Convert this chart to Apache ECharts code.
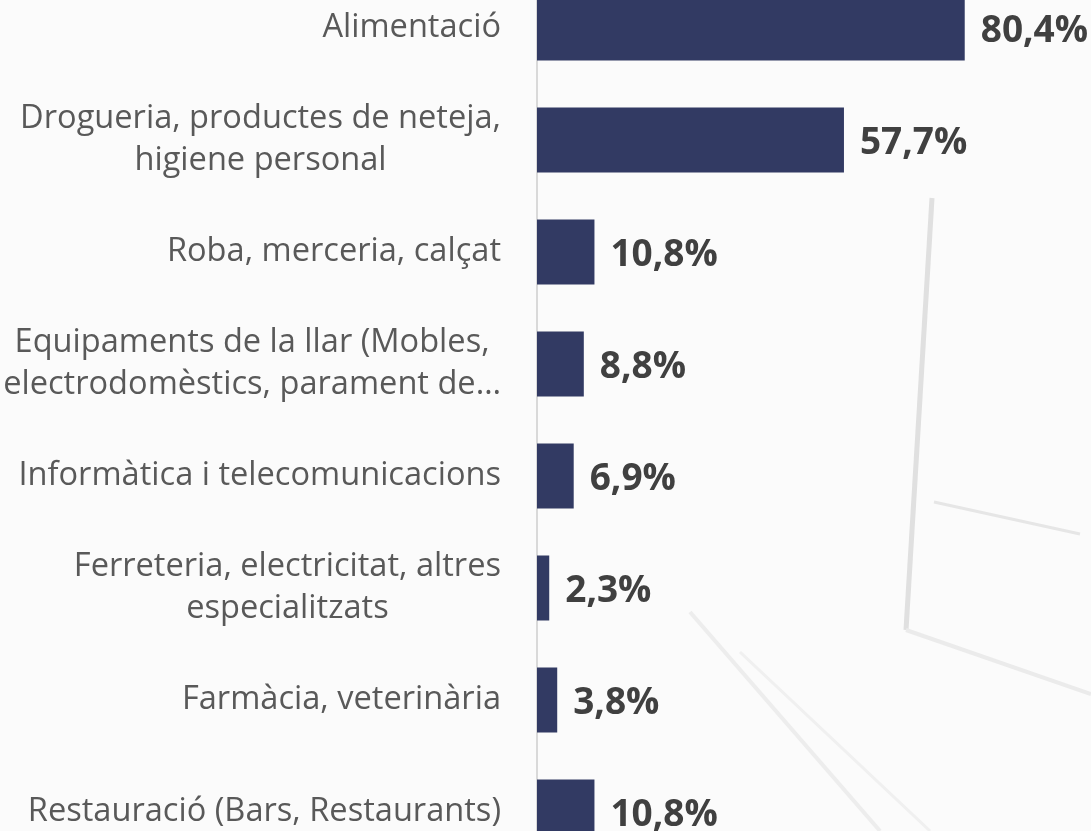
<!DOCTYPE html>
<html>
<head>
<meta charset="utf-8">
<script src="https://cdn.jsdelivr.net/npm/echarts@6/dist/echarts.min.js"></script>
<style>
    html, body { margin: 0; padding: 0; background: #fbfbfb; overflow: hidden; height: 831px; }
    #chart { width: 1091px; height: 896px; margin-top: -28px; }
</style>
</head>
<body>
<div id="chart"></div>
<script>
// Data
const categories = [
    'Alimentació',
    'Drogueria, productes de neteja,\nhigiene personal',
    'Roba, merceria, calçat',
    'Equipaments de la llar (Mobles,\nelectrodomèstics, parament de…',
    'Informàtica i telecomunicacions',
    'Ferreteria, electricitat, altres\nespecialitzats',
    'Farmàcia, veterinària',
    'Restauració (Bars, Restaurants)'
];
const values = [80.4, 57.7, 10.8, 8.8, 6.9, 2.3, 3.8, 10.8];

const chart = echarts.init(document.getElementById('chart'));
const option = {
    backgroundColor: '#fbfbfb',
    animation: false,
    // faint background picture (laptop outline)
    graphic: [
        { type: 'polyline', silent: true, z: -10,
          shape: { points: [[932, 226], [906, 658]] },
          style: { stroke: '#e0e0e0', lineWidth: 5, fill: null } },
        { type: 'polyline', silent: true, z: -10,
          shape: { points: [[934, 530], [1080, 562]] },
          style: { stroke: '#e6e6e6', lineWidth: 3, fill: null } },
        { type: 'polyline', silent: true, z: -10,
          shape: { points: [[906, 658], [1091, 722]] },
          style: { stroke: '#ebebeb', lineWidth: 4, fill: null } },
        { type: 'polyline', silent: true, z: -10,
          shape: { points: [[690, 640], [880, 859]] },
          style: { stroke: '#ededed', lineWidth: 4, fill: null } },
        { type: 'polyline', silent: true, z: -10,
          shape: { points: [[740, 680], [930, 859]] },
          style: { stroke: '#f0f0f0', lineWidth: 3, fill: null } }
    ],
    grid: {
        left: 537,
        right: 22,
        top: 0,
        bottom: 0
    },
    xAxis: {
        type: 'value',
        min: 0,
        max: 100,
        show: false
    },
    yAxis: {
        type: 'category',
        inverse: true,
        data: categories,
        axisLine: { show: true, lineStyle: { color: '#d9d9d9', width: 2 } },
        axisTick: { show: false },
        axisLabel: {
            margin: 36,
            fontFamily: 'Open Sans',
            fontSize: 32.6,
            color: '#595959',
            lineHeight: 42,
            formatter: function(v) {
                return v.split('\n').map(function(s) { return '{c|' + s + '}'; }).join('\n');
            },
            rich: {
                c: {
                    align: 'center',
                    fontFamily: 'Open Sans',
                    fontSize: 32.6,
                    color: '#595959',
                    lineHeight: 42
                }
            }
        }
    },
    series: [{
        type: 'bar',
        data: values,
        barCategoryGap: '42%',
        itemStyle: { color: '#323a63' },
        label: {
            show: true,
            position: 'right',
            distance: 16,
            offset: [0, 3],
            fontFamily: 'Open Sans',
            fontWeight: 'bold',
            fontSize: 37,
            color: '#404040',
            formatter: function(p) {
                return p.value.toFixed(1).replace('.', ',') + '%';
            }
        }
    }]
};
chart.setOption(option);
</script>
</body>
</html>
